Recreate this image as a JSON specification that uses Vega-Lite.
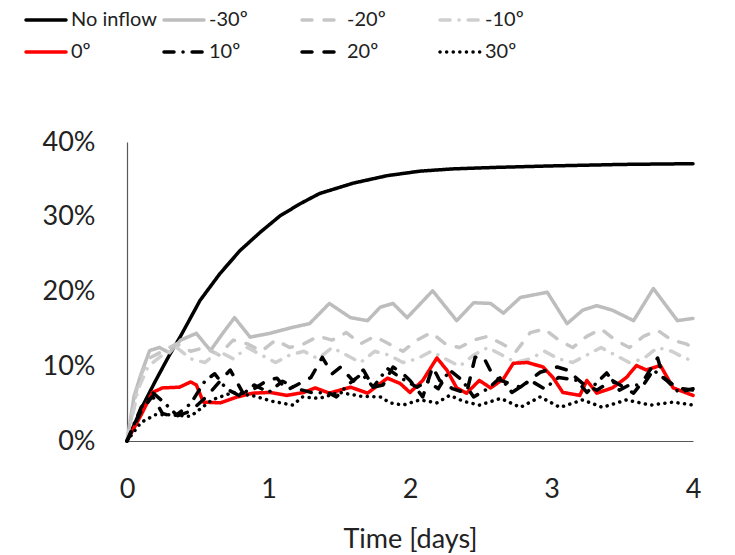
{
  "$schema": "https://vega.github.io/schema/vega-lite/v6.json",
  "width": 566,
  "height": 299,
  "autosize": {"type": "none"},
  "padding": {"left": 127, "top": 142, "right": 42, "bottom": 114},
  "background": "white",
  "config": {"view": {"stroke": null}, "font": "Lato"},
  "data": {"values": [
    {"s":"No inflow","t":0,"v":0},{"s":"No inflow","t":0.1,"v":4.3},{"s":"No inflow","t":0.2,"v":8.0},{"s":"No inflow","t":0.3,"v":11.5},{"s":"No inflow","t":0.375,"v":13.9},{"s":"No inflow","t":0.516,"v":18.8},{"s":"No inflow","t":0.657,"v":22.4},{"s":"No inflow","t":0.8,"v":25.5},{"s":"No inflow","t":0.94,"v":27.9},{"s":"No inflow","t":1.08,"v":30.1},{"s":"No inflow","t":1.22,"v":31.7},{"s":"No inflow","t":1.36,"v":33.1},{"s":"No inflow","t":1.6,"v":34.5},{"s":"No inflow","t":1.84,"v":35.5},{"s":"No inflow","t":2.07,"v":36.1},{"s":"No inflow","t":2.3,"v":36.4},{"s":"No inflow","t":2.6,"v":36.6},{"s":"No inflow","t":3.0,"v":36.8},{"s":"No inflow","t":3.5,"v":37.0},{"s":"No inflow","t":4.0,"v":37.1},

    {"s":"-30º","t":0,"v":0},{"s":"-30º","t":0.05,"v":6},{"s":"-30º","t":0.1,"v":9},{"s":"-30º","t":0.16,"v":12.1},{"s":"-30º","t":0.23,"v":12.5},{"s":"-30º","t":0.3,"v":11.8},{"s":"-30º","t":0.38,"v":13.5},{"s":"-30º","t":0.49,"v":14.4},{"s":"-30º","t":0.59,"v":12.1},{"s":"-30º","t":0.68,"v":14.5},{"s":"-30º","t":0.76,"v":16.5},{"s":"-30º","t":0.87,"v":13.9},{"s":"-30º","t":1.01,"v":14.4},{"s":"-30º","t":1.17,"v":15.2},{"s":"-30º","t":1.29,"v":15.7},{"s":"-30º","t":1.43,"v":18.4},{"s":"-30º","t":1.58,"v":16.5},{"s":"-30º","t":1.70,"v":16.1},{"s":"-30º","t":1.79,"v":17.9},{"s":"-30º","t":1.88,"v":18.4},{"s":"-30º","t":1.98,"v":16.5},{"s":"-30º","t":2.16,"v":20.1},{"s":"-30º","t":2.33,"v":16.1},{"s":"-30º","t":2.45,"v":18.5},{"s":"-30º","t":2.57,"v":18.4},{"s":"-30º","t":2.66,"v":17.1},{"s":"-30º","t":2.78,"v":19.2},{"s":"-30º","t":2.97,"v":19.9},{"s":"-30º","t":3.11,"v":15.7},{"s":"-30º","t":3.22,"v":17.5},{"s":"-30º","t":3.32,"v":18.1},{"s":"-30º","t":3.43,"v":17.5},{"s":"-30º","t":3.58,"v":16.1},{"s":"-30º","t":3.72,"v":20.4},{"s":"-30º","t":3.89,"v":16.1},{"s":"-30º","t":4.0,"v":16.4},

    {"s":"-20º","t":0,"v":0},{"s":"-20º","t":0.08,"v":8},{"s":"-20º","t":0.15,"v":11},{"s":"-20º","t":0.25,"v":12},{"s":"-20º","t":0.35,"v":13},{"s":"-20º","t":0.45,"v":12},{"s":"-20º","t":0.55,"v":12.5},{"s":"-20º","t":0.65,"v":11.5},{"s":"-20º","t":0.75,"v":13.5},{"s":"-20º","t":0.85,"v":13},{"s":"-20º","t":0.95,"v":12},{"s":"-20º","t":1.05,"v":13.5},{"s":"-20º","t":1.15,"v":12.5},{"s":"-20º","t":1.25,"v":13},{"s":"-20º","t":1.35,"v":14},{"s":"-20º","t":1.45,"v":13.5},{"s":"-20º","t":1.55,"v":14.5},{"s":"-20º","t":1.65,"v":13},{"s":"-20º","t":1.75,"v":14},{"s":"-20º","t":1.85,"v":13},{"s":"-20º","t":1.95,"v":12},{"s":"-20º","t":2.05,"v":13.5},{"s":"-20º","t":2.15,"v":14.5},{"s":"-20º","t":2.25,"v":13},{"s":"-20º","t":2.35,"v":12.5},{"s":"-20º","t":2.45,"v":13.5},{"s":"-20º","t":2.55,"v":14},{"s":"-20º","t":2.65,"v":13},{"s":"-20º","t":2.75,"v":12},{"s":"-20º","t":2.85,"v":14.5},{"s":"-20º","t":2.95,"v":15},{"s":"-20º","t":3.05,"v":13.5},{"s":"-20º","t":3.15,"v":12.5},{"s":"-20º","t":3.25,"v":14},{"s":"-20º","t":3.35,"v":15},{"s":"-20º","t":3.45,"v":13.5},{"s":"-20º","t":3.55,"v":12.5},{"s":"-20º","t":3.65,"v":14},{"s":"-20º","t":3.75,"v":14.8},{"s":"-20º","t":3.85,"v":13.5},{"s":"-20º","t":3.95,"v":13},{"s":"-20º","t":4.0,"v":12.5},

    {"s":"-10º","t":0,"v":0},{"s":"-10º","t":0.08,"v":7},{"s":"-10º","t":0.15,"v":10},{"s":"-10º","t":0.25,"v":11.5},{"s":"-10º","t":0.35,"v":12.5},{"s":"-10º","t":0.45,"v":11},{"s":"-10º","t":0.55,"v":10.5},{"s":"-10º","t":0.65,"v":12},{"s":"-10º","t":0.75,"v":11},{"s":"-10º","t":0.85,"v":12.5},{"s":"-10º","t":0.95,"v":11.5},{"s":"-10º","t":1.05,"v":10.5},{"s":"-10º","t":1.15,"v":11.5},{"s":"-10º","t":1.25,"v":12},{"s":"-10º","t":1.35,"v":11},{"s":"-10º","t":1.45,"v":12.5},{"s":"-10º","t":1.55,"v":11.5},{"s":"-10º","t":1.65,"v":10.5},{"s":"-10º","t":1.75,"v":12},{"s":"-10º","t":1.85,"v":11.5},{"s":"-10º","t":1.95,"v":10.5},{"s":"-10º","t":2.05,"v":11},{"s":"-10º","t":2.15,"v":12},{"s":"-10º","t":2.25,"v":11},{"s":"-10º","t":2.35,"v":10},{"s":"-10º","t":2.45,"v":11.5},{"s":"-10º","t":2.55,"v":12.5},{"s":"-10º","t":2.65,"v":11.5},{"s":"-10º","t":2.75,"v":10.5},{"s":"-10º","t":2.85,"v":11},{"s":"-10º","t":2.95,"v":12},{"s":"-10º","t":3.05,"v":11},{"s":"-10º","t":3.15,"v":10.5},{"s":"-10º","t":3.25,"v":11.5},{"s":"-10º","t":3.35,"v":12.5},{"s":"-10º","t":3.45,"v":11.5},{"s":"-10º","t":3.55,"v":10.5},{"s":"-10º","t":3.65,"v":11},{"s":"-10º","t":3.75,"v":12.5},{"s":"-10º","t":3.85,"v":12},{"s":"-10º","t":3.95,"v":11},{"s":"-10º","t":4.0,"v":10.8},

    {"s":"0º","t":0,"v":0},{"s":"0º","t":0.1,"v":3.5},{"s":"0º","t":0.18,"v":6.5},{"s":"0º","t":0.25,"v":7.1},{"s":"0º","t":0.37,"v":7.2},{"s":"0º","t":0.45,"v":7.9},{"s":"0º","t":0.49,"v":7.5},{"s":"0º","t":0.54,"v":5.2},{"s":"0º","t":0.66,"v":5.1},{"s":"0º","t":0.78,"v":5.9},{"s":"0º","t":0.89,"v":6.4},{"s":"0º","t":1.01,"v":6.5},{"s":"0º","t":1.13,"v":6.1},{"s":"0º","t":1.25,"v":6.5},{"s":"0º","t":1.33,"v":7.1},{"s":"0º","t":1.43,"v":6.4},{"s":"0º","t":1.58,"v":7.2},{"s":"0º","t":1.70,"v":6.4},{"s":"0º","t":1.84,"v":8.4},{"s":"0º","t":1.93,"v":7.7},{"s":"0º","t":2.0,"v":6.5},{"s":"0º","t":2.09,"v":8.1},{"s":"0º","t":2.19,"v":11.1},{"s":"0º","t":2.26,"v":9.5},{"s":"0º","t":2.33,"v":7.1},{"s":"0º","t":2.40,"v":6.4},{"s":"0º","t":2.49,"v":8.1},{"s":"0º","t":2.57,"v":7.1},{"s":"0º","t":2.66,"v":8.3},{"s":"0º","t":2.73,"v":10.4},{"s":"0º","t":2.83,"v":10.5},{"s":"0º","t":2.94,"v":9.9},{"s":"0º","t":3.01,"v":8.5},{"s":"0º","t":3.08,"v":6.5},{"s":"0º","t":3.20,"v":6.1},{"s":"0º","t":3.25,"v":8.1},{"s":"0º","t":3.32,"v":6.4},{"s":"0º","t":3.43,"v":7.1},{"s":"0º","t":3.53,"v":8.5},{"s":"0º","t":3.60,"v":10.1},{"s":"0º","t":3.67,"v":9.5},{"s":"0º","t":3.77,"v":10.1},{"s":"0º","t":3.86,"v":7.1},{"s":"0º","t":4.0,"v":6.1},

    {"s":"10º","t":0,"v":0},{"s":"10º","t":0.1,"v":4.5},{"s":"10º","t":0.18,"v":6.5},{"s":"10º","t":0.27,"v":5},{"s":"10º","t":0.35,"v":3.5},{"s":"10º","t":0.45,"v":5},{"s":"10º","t":0.55,"v":8},{"s":"10º","t":0.62,"v":9},{"s":"10º","t":0.7,"v":7},{"s":"10º","t":0.8,"v":6},{"s":"10º","t":0.9,"v":7.5},{"s":"10º","t":1.0,"v":6.5},{"s":"10º","t":1.1,"v":8},{"s":"10º","t":1.2,"v":7},{"s":"10º","t":1.3,"v":6.5},{"s":"10º","t":1.43,"v":6.4},{"s":"10º","t":1.48,"v":5.9},{"s":"10º","t":1.56,"v":7.5},{"s":"10º","t":1.66,"v":9},{"s":"10º","t":1.74,"v":7.2},{"s":"10º","t":1.84,"v":9.7},{"s":"10º","t":1.93,"v":8.5},{"s":"10º","t":2.05,"v":7.2},{"s":"10º","t":2.12,"v":8},{"s":"10º","t":2.2,"v":7},{"s":"10º","t":2.28,"v":9.5},{"s":"10º","t":2.37,"v":8.1},{"s":"10º","t":2.45,"v":5.9},{"s":"10º","t":2.55,"v":7},{"s":"10º","t":2.64,"v":8.5},{"s":"10º","t":2.72,"v":6.5},{"s":"10º","t":2.85,"v":8.1},{"s":"10º","t":2.95,"v":7},{"s":"10º","t":3.05,"v":8.5},{"s":"10º","t":3.18,"v":8.1},{"s":"10º","t":3.25,"v":6.5},{"s":"10º","t":3.39,"v":9.1},{"s":"10º","t":3.48,"v":6.8},{"s":"10º","t":3.55,"v":7.5},{"s":"10º","t":3.65,"v":7.5},{"s":"10º","t":3.72,"v":9.5},{"s":"10º","t":3.82,"v":8},{"s":"10º","t":3.9,"v":6.5},{"s":"10º","t":4.0,"v":7},

    {"s":"20º","t":0,"v":0},{"s":"20º","t":0.1,"v":4},{"s":"20º","t":0.18,"v":6},{"s":"20º","t":0.25,"v":3.7},{"s":"20º","t":0.33,"v":3.2},{"s":"20º","t":0.45,"v":4.0},{"s":"20º","t":0.56,"v":5.9},{"s":"20º","t":0.68,"v":8.5},{"s":"20º","t":0.73,"v":9.5},{"s":"20º","t":0.82,"v":6.4},{"s":"20º","t":0.9,"v":7},{"s":"20º","t":0.99,"v":8.1},{"s":"20º","t":1.06,"v":8.4},{"s":"20º","t":1.13,"v":6.8},{"s":"20º","t":1.2,"v":7.5},{"s":"20º","t":1.3,"v":8.5},{"s":"20º","t":1.38,"v":11.2},{"s":"20º","t":1.45,"v":9},{"s":"20º","t":1.51,"v":9.9},{"s":"20º","t":1.6,"v":8},{"s":"20º","t":1.67,"v":9.5},{"s":"20º","t":1.74,"v":7.2},{"s":"20º","t":1.81,"v":7.5},{"s":"20º","t":1.88,"v":9.9},{"s":"20º","t":1.95,"v":9},{"s":"20º","t":2.0,"v":8.1},{"s":"20º","t":2.09,"v":5.9},{"s":"20º","t":2.16,"v":9.9},{"s":"20º","t":2.21,"v":8.1},{"s":"20º","t":2.3,"v":7},{"s":"20º","t":2.4,"v":6.4},{"s":"20º","t":2.46,"v":11.2},{"s":"20º","t":2.52,"v":11.2},{"s":"20º","t":2.58,"v":9},{"s":"20º","t":2.64,"v":8.1},{"s":"20º","t":2.78,"v":7.2},{"s":"20º","t":2.92,"v":9.2},{"s":"20º","t":3.04,"v":9.9},{"s":"20º","t":3.11,"v":9.5},{"s":"20º","t":3.22,"v":7.7},{"s":"20º","t":3.32,"v":6.8},{"s":"20º","t":3.43,"v":8.1},{"s":"20º","t":3.58,"v":6.4},{"s":"20º","t":3.65,"v":8.1},{"s":"20º","t":3.75,"v":11.1},{"s":"20º","t":3.79,"v":8.5},{"s":"20º","t":3.89,"v":7.1},{"s":"20º","t":4.0,"v":6.8},

    {"s":"30º","t":0,"v":0},{"s":"30º","t":0.1,"v":2.5},{"s":"30º","t":0.2,"v":3.5},{"s":"30º","t":0.3,"v":3.5},{"s":"30º","t":0.45,"v":3.3},{"s":"30º","t":0.6,"v":5.5},{"s":"30º","t":0.75,"v":6.5},{"s":"30º","t":0.9,"v":6},{"s":"30º","t":1.03,"v":5.3},{"s":"30º","t":1.17,"v":4.8},{"s":"30º","t":1.24,"v":5.9},{"s":"30º","t":1.36,"v":5.7},{"s":"30º","t":1.5,"v":6.5},{"s":"30º","t":1.65,"v":6},{"s":"30º","t":1.79,"v":5.9},{"s":"30º","t":1.86,"v":5.1},{"s":"30º","t":1.95,"v":4.8},{"s":"30º","t":2.07,"v":5.5},{"s":"30º","t":2.19,"v":5.1},{"s":"30º","t":2.28,"v":6.1},{"s":"30º","t":2.38,"v":5.3},{"s":"30º","t":2.49,"v":4.8},{"s":"30º","t":2.64,"v":5.7},{"s":"30º","t":2.78,"v":4.5},{"s":"30º","t":2.92,"v":5.9},{"s":"30º","t":3.06,"v":4.5},{"s":"30º","t":3.22,"v":5.5},{"s":"30º","t":3.36,"v":4.5},{"s":"30º","t":3.53,"v":5.5},{"s":"30º","t":3.70,"v":4.8},{"s":"30º","t":3.86,"v":5.2},{"s":"30º","t":4.0,"v":4.8}
  ]},
  "mark": {"type": "line", "strokeWidth": 3.5, "strokeCap": "round", "strokeJoin": "round"},
  "encoding": {
    "x": {"field": "t", "type": "quantitative",
      "scale": {"domain": [0, 4], "nice": false},
      "axis": {"title": "Time [days]", "values": [0, 1, 2, 3, 4], "grid": false, "ticks": false, "labelFlush": false,
        "domainColor": "#595959", "domainWidth": 1.2,
        "labelFont": "Lato", "labelFontSize": 27, "labelColor": "#222", "labelPadding": 35,
        "titleFont": "Lato", "titleFontSize": 27, "titleFontWeight": "normal", "titleColor": "#222", "titlePadding": 24}},
    "y": {"field": "v", "type": "quantitative",
      "scale": {"domain": [0, 40], "nice": false},
      "axis": {"title": null, "values": [0, 10, 20, 30, 40], "grid": false, "ticks": false,
        "labelExpr": "datum.value + '%'",
        "domainColor": "#595959", "domainWidth": 1.2,
        "labelFont": "Lato", "labelFontSize": 27, "labelColor": "#222", "labelPadding": 32}},
    "color": {"field": "s", "type": "nominal",
      "scale": {"domain": ["No inflow", "-30º", "-20º", "-10º", "0º", "10º", "20º", "30º"],
        "range": ["#000000", "#bdbdbd", "#c6c6c6", "#cfcfcf", "#ff0000", "#000000", "#000000", "#000000"]},
      "legend": {"orient": "none", "legendX": -103, "legendY": -144, "columns": 4, "direction": "horizontal",
        "title": null, "symbolType": "stroke", "symbolSize": 1600, "symbolStrokeWidth": 3.5,
        "labelFont": "Lato", "labelFontSize": 20, "labelColor": "#222", "labelOffset": 3,
        "gridAlign": "all", "columnPadding": 0, "rowPadding": -6,
        "encode": {"symbols": {"update": {"strokeCap": {"value": "round"}}}}}},
    "strokeDash": {"field": "s", "type": "nominal",
      "scale": {"domain": ["No inflow", "-30º", "-20º", "-10º", "0º", "10º", "20º", "30º"],
        "range": [[1, 0], [1, 0], [10, 12], [10, 9, 0.1, 9], [1, 0], [10, 9, 0.1, 9], [10, 12], [0.1, 6.5]]}}
  }
}
